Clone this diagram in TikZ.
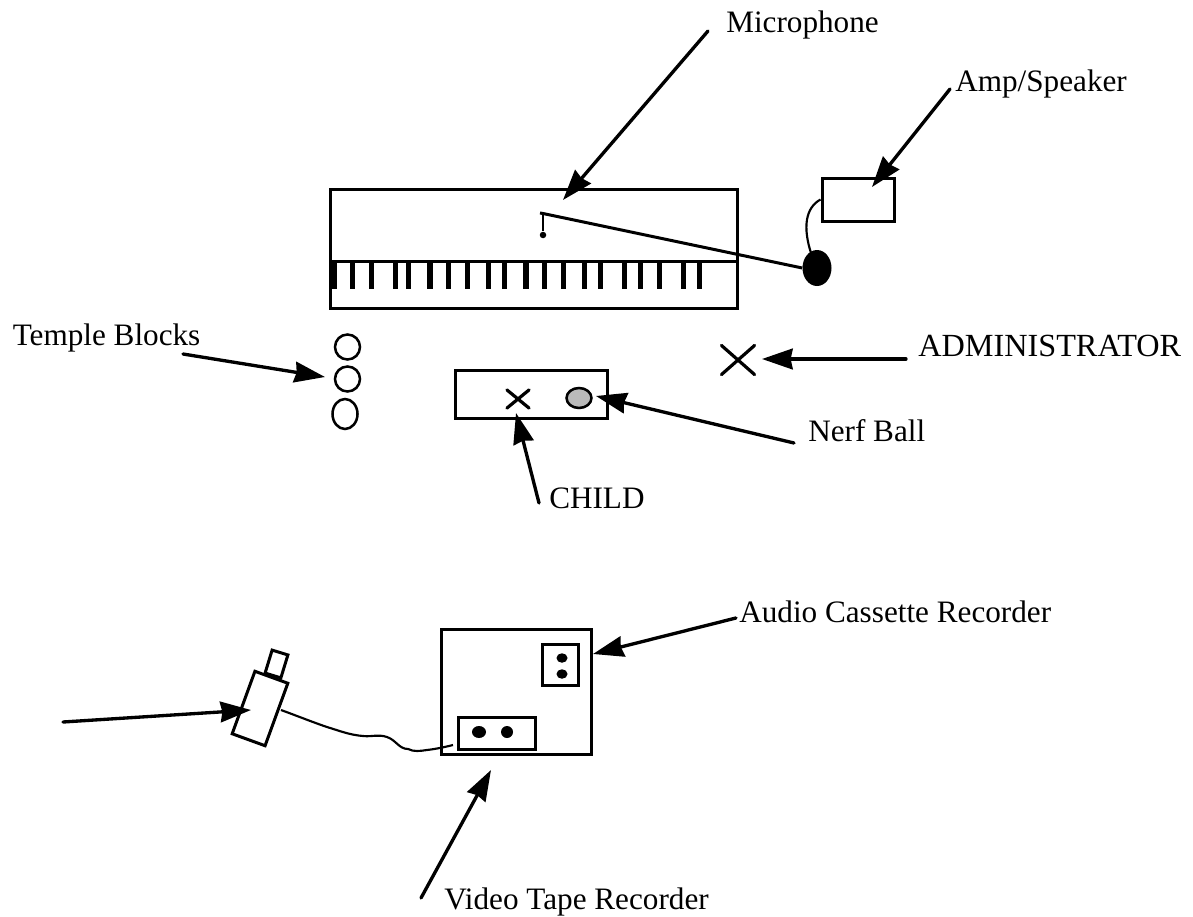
\documentclass[tikz,border=0pt]{standalone}
\usepackage{fontspec}
\setmainfont{Liberation Serif}
\usetikzlibrary{arrows.meta,shapes.geometric,shapes.misc}
\def\px{0.75pt}
\tikzset{
  every picture/.style={x=0.75pt,y=-0.75pt},
  ln/.style={line width=2.25pt},
  thin ln/.style={line width=2pt},
  box/.style={draw,ln,rectangle,inner sep=0pt,fill=none},
  oval/.style={draw,line width=1.9pt,ellipse,inner sep=0pt},
  solid oval/.style={fill=black,ellipse,inner sep=0pt},
  xmark/.style={draw,line width=2.4pt,cross out,inner sep=0pt,line cap=round},
  pointer/.style={line width=2.5pt,line cap=round,-{Stealth[length=23pt,width=15.5pt,inset=1.5pt]}},
  lab/.style={anchor=base west,inner sep=0pt,font=\fontsize{23.4}{27}\selectfont},
}
\begin{document}
\begin{tikzpicture}
\useasboundingbox (0,0) rectangle (1193,917);
% keyboard
\node[box,minimum width=407*\px,minimum height=119*\px] (keyboard) at (533.5,248.5) {};
\draw[ln] (330,261) -- (737,261);
\foreach \k in {334,352.7,371.3,395.3,408.7,430,448.7,467.3,488.7,504.7,526,544.7,563.3,584.7,600.7,624.7,640.7,659.3,683.3,699.3}
  \fill (\k-2.7,261) rectangle (\k+2.7,289);
% amp and mic
\node[box,minimum width=72*\px,minimum height=43*\px] (amp) at (858,199.5) {};
\node[solid oval,minimum width=29*\px,minimum height=36*\px] (mic) at (817,268) {};
\node[solid oval,minimum width=6.5*\px,minimum height=6.5*\px] (micdot) at (543,235) {};
\coordinate (boomtop) at (543,213.5);
\coordinate (boomend) at (540,213);
\draw[ln] (boomend) -- (boomtop) -- (mic.west);
\draw[thin ln] (boomtop) -- (micdot.north);
\draw[line width=1.6pt] (amp.west) .. controls (805,208) and (803,228) .. (811,253);
% temple blocks
\node[oval,minimum width=25*\px,minimum height=25*\px] (tb1) at (347.5,347) {};
\node[oval,minimum width=25*\px,minimum height=25*\px] (tb2) at (347.5,379) {};
\node[oval,minimum width=25*\px,minimum height=30*\px] (tb3) at (345,414) {};
% child mat
\node[box,minimum width=152*\px,minimum height=48*\px] (mat) at (531,394) {};
\node[xmark,minimum width=19*\px,minimum height=15*\px] (child) at (518,399) {};
\node[oval,fill=black!27,minimum width=25*\px,minimum height=20*\px] (ball) at (579,398) {};
\node[xmark,minimum width=30*\px,minimum height=26*\px] (admin) at (738,360) {};
% recorders
\node[box,minimum width=149.5*\px,minimum height=125*\px] (rec) at (516.5,691.5) {};
\node[box,minimum width=35.5*\px,minimum height=41*\px] (audio) at (560.5,665) {};
\node[solid oval,minimum width=11*\px,minimum height=9.5*\px] (a1) at (562,658) {};
\node[solid oval,minimum width=11*\px,minimum height=9.5*\px] (a2) at (562,674) {};
\node[box,minimum width=77*\px,minimum height=32*\px] (vtr) at (496.5,733) {};
\node[solid oval,minimum width=14*\px,minimum height=12*\px] (v1) at (479,732) {};
\node[solid oval,minimum width=12*\px,minimum height=12*\px] (v2) at (507,732) {};
% camera
\node[box,rotate=-20,minimum width=35*\px,minimum height=66.5*\px] (cam) at (260,708.5) {};
\node[box,rotate=-17,minimum width=16.5*\px,minimum height=24*\px] (lens) at (276.5,664) {};
\coordinate (cb1) at (327,727);
\coordinate (cb2) at (363,736);
\coordinate (cb3) at (387,737);
\coordinate (cb4) at (408,749);
\coordinate (cb5) at (427,750);
\coordinate (cb6) at (453,745);
\coordinate (cb0) at (281,710);
\draw[line width=1.6pt] (cb0) .. controls (300,717) and (315,723) .. (cb1)
  .. controls (340,731) and (350,735) .. (cb2)
  .. controls (372,737) and (378,734) .. (cb3)
  .. controls (396,740) and (399,749) .. (cb4)
  .. controls (414,752) and (420,751) .. (cb5)
  .. controls (436,749) and (445,747) .. (cb6);
% labels
\node[lab] (lMic) at (726,33) {Microphone};
\node[lab] (lAmp) at (955,92) {Amp/Speaker};
\node[lab] (lTemple) at (12.5,345) {Temple Blocks};
\node[lab,font=\fontsize{24.2}{27}\selectfont] (lAdmin) at (918,356) {ADMINISTRATOR};
\node[lab] (lNerf) at (808,441) {Nerf Ball};
\node[lab] (lChild) at (549,508) {CHILD};
\node[lab] (lAudio) at (739,622) {Audio Cassette Recorder};
\node[lab] (lVideo) at (444,909) {Video Tape Recorder};
% pointers
\coordinate (tMic) at (708,31);   \coordinate (hMic) at (563,200);
\coordinate (tAmp) at (950,89);   \coordinate (hAmp) at (872,187);
\coordinate (tTemple) at (183,354); \coordinate (hTemple) at (325,377);
\coordinate (tAdmin) at (906,359); \coordinate (hAdmin) at (762,359);
\coordinate (tNerf) at (794,443); \coordinate (hNerf) at (596,396);
\coordinate (tChild) at (539,503); \coordinate (hChild) at (516,413);
\coordinate (tAudio) at (736,618); \coordinate (hAudio) at (593,654);
\coordinate (tCam) at (63,722);   \coordinate (hCam) at (251,710);
\coordinate (tVideo) at (421,898); \coordinate (hVideo) at (491,770);
\foreach \n in {Mic,Amp,Temple,Admin,Nerf,Child,Audio,Cam,Video}
  \draw[pointer] (t\n) -- (h\n);
\end{tikzpicture}
\end{document}
